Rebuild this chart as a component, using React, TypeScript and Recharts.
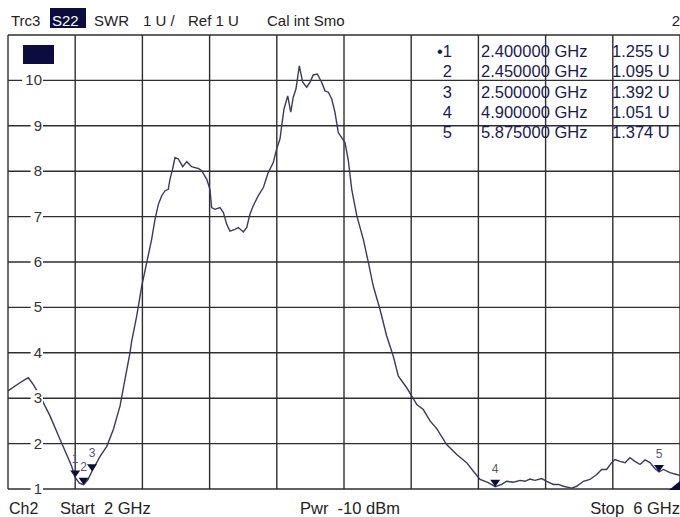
import React from 'react';
import { LineChart, Line, XAxis, YAxis, CartesianGrid, ReferenceDot } from 'recharts';

const freqGHz = [
  2.0, 2.071, 2.101, 2.121, 2.151, 2.19, 2.25, 2.31, 2.349, 2.379, 2.4, 2.425, 2.45, 2.475, 2.5,
  2.548, 2.588, 2.627, 2.667, 2.696, 2.726, 2.736, 2.766, 2.796, 2.826, 2.855, 2.875, 2.895, 2.915,
  2.935, 2.954, 2.964, 2.98, 2.994, 3.014, 3.04, 3.064, 3.093, 3.113, 3.133, 3.153, 3.183, 3.202,
  3.212, 3.232, 3.262, 3.282, 3.302, 3.321, 3.351, 3.371, 3.401, 3.421, 3.44, 3.46, 3.49, 3.52,
  3.549, 3.579, 3.599, 3.619, 3.629, 3.643, 3.665, 3.683, 3.698, 3.714, 3.734, 3.754, 3.778, 3.798,
  3.817, 3.841, 3.867, 3.887, 3.907, 3.927, 3.946, 3.966, 3.986, 4.006, 4.026, 4.046, 4.076, 4.115,
  4.145, 4.174, 4.214, 4.254, 4.293, 4.323, 4.373, 4.403, 4.433, 4.472, 4.512, 4.552, 4.611, 4.671,
  4.73, 4.77, 4.81, 4.859, 4.9, 4.939, 4.968, 5.008, 5.048, 5.077, 5.107, 5.137, 5.177, 5.207,
  5.246, 5.276, 5.306, 5.355, 5.385, 5.425, 5.464, 5.504, 5.534, 5.563, 5.593, 5.613, 5.643, 5.673,
  5.702, 5.732, 5.762, 5.792, 5.821, 5.85, 5.875, 5.901, 5.94, 5.98, 6.0,
];

const swrU = [
  3.16, 3.34, 3.41, 3.45, 3.3, 3.05, 2.61, 2.09, 1.76, 1.5, 1.255, 1.13, 1.095, 1.2, 1.392,
  1.72, 1.94, 2.31, 2.83, 3.41, 4.0, 4.25, 4.81, 5.47, 5.99, 6.5, 6.94, 7.27, 7.46,
  7.57, 7.6, 7.82, 8.05, 8.3, 8.27, 8.1, 8.21, 8.1, 8.08, 8.06, 8.01, 7.82, 7.6,
  7.2, 7.16, 7.2, 7.09, 6.83, 6.68, 6.72, 6.76, 6.66, 6.76, 7.05, 7.24, 7.46, 7.64,
  7.97, 8.19, 8.49, 8.71, 9.0, 9.37, 9.66, 9.3, 9.63, 9.81, 10.32, 9.96, 9.85, 9.96,
  10.12, 10.14, 9.96, 9.77, 9.74, 9.59, 9.3, 8.85, 8.74, 8.63, 8.23, 7.6, 7.02, 6.5,
  5.99, 5.47, 4.96, 4.37, 3.93, 3.49, 3.23, 3.05, 2.86, 2.75, 2.5, 2.33, 1.98, 1.76,
  1.58, 1.39, 1.21, 1.14, 1.051, 1.1, 1.17, 1.15, 1.19, 1.17, 1.22, 1.19, 1.23, 1.17,
  1.1, 1.1, 1.06, 1.02, 1.06, 1.17, 1.21, 1.32, 1.43, 1.43, 1.58, 1.65, 1.61, 1.58,
  1.69, 1.61, 1.54, 1.64, 1.58, 1.45, 1.374, 1.43, 1.36, 1.32, 1.3,
];

const markerNames = ['1', '2', '3', '4', '5'];
const markerFreqGHz = [2.4, 2.45, 2.5, 4.9, 5.875];
const markerSwrU = [1.255, 1.095, 1.392, 1.051, 1.374];
const markerTableNames = ['\u20221', '2', '3', '4', '5'];
const markerFreqLabels = ['2.400000 GHz', '2.450000 GHz', '2.500000 GHz', '4.900000 GHz', '5.875000 GHz'];
const markerValueLabels = ['1.255 U', '1.095 U', '1.392 U', '1.051 U', '1.374 U'];

const xTicks = [2, 2.4, 2.8, 3.2, 3.6, 4, 4.4, 4.8, 5.2, 5.6, 6];
const yTicks = [1, 2, 3, 4, 5, 6, 7, 8, 9, 10, 11];
const yTickLabels = ['1', '2', '3', '4', '5', '6', '7', '8', '9', '10'];

const headerSegments = [
  { text: 'Trc3', x: 11 },
  { text: 'SWR', x: 94 },
  { text: '1 U /', x: 143 },
  { text: 'Ref 1 U', x: 188 },
  { text: 'Cal int Smo', x: 267 },
];

const data = freqGHz.map((f, i) => ({ f, swr: swrU[i] }));

const FONT = '"Liberation Sans", Arial, sans-serif';
const NAVY = '#0c0c3e';

const X_DOMAIN: [number, number] = [2, 6];
const Y_DOMAIN: [number, number] = [1, 11];

const YTick = (props: any) => {
  const { x, y, payload } = props;
  const idx = yTicks.indexOf(payload.value);
  const label = yTickLabels[idx];
  if (!label) return <g />;
  const w = label.length * 8.4;
  const right = x + 34;
  return (
    <g>
      <rect x={right - w - 3} y={y - 8} width={w + 4} height={16} fill="#ffffff" />
      <text x={right} y={y + 5} textAnchor="end" fontSize={15} fill="#333" fontFamily={FONT}>
        {label}
      </text>
    </g>
  );
};

const EmptyTick = () => <g />;

const makeMarker = (name: string) => (props: any) => {
  const { cx, cy } = props;
  return (
    <g>
      <polygon points={`${cx - 5},${cy - 7} ${cx + 5},${cy - 7} ${cx},${cy}`} fill={NAVY} />
      <text x={cx} y={cy - 14} textAnchor="middle" fontSize={12} fill="#55557a" fontFamily={FONT}>
        {name}
      </text>
    </g>
  );
};

const CornerShape = (props: any) => {
  const { cx, cy } = props;
  return <polygon points={`${cx - 11},${cy + 1} ${cx},${cy + 1} ${cx},${cy - 8}`} fill={NAVY} />;
};

const verticalGen = (args: any) => {
  const { xAxis, offset } = args;
  if (xAxis && typeof xAxis.scale === 'function') {
    return xTicks.map((t) => xAxis.scale(t));
  }
  return xTicks.map((t) => offset.left + ((t - X_DOMAIN[0]) / (X_DOMAIN[1] - X_DOMAIN[0])) * offset.width);
};

const horizontalGen = (args: any) => {
  const { yAxis, offset } = args;
  if (yAxis && typeof yAxis.scale === 'function') {
    return yTicks.map((t) => yAxis.scale(t));
  }
  return yTicks.map((t) => offset.top + ((Y_DOMAIN[1] - t) / (Y_DOMAIN[1] - Y_DOMAIN[0])) * offset.height);
};

export default function App() {
  return (
    <div style={{ position: 'absolute', left: 0, top: 0, width: 680, height: 517, background: '#fff' }}>
      <LineChart width={680} height={517} data={data} margin={{ top: 35, right: 0, bottom: 27, left: 0 }}>
        <CartesianGrid
          stroke="#2e2e2e"
          strokeWidth={1.4}
          verticalCoordinatesGenerator={verticalGen}
          horizontalCoordinatesGenerator={horizontalGen}
        />
        <XAxis
          dataKey="f"
          type="number"
          domain={X_DOMAIN}
          ticks={xTicks}
          height={1}
          tick={<EmptyTick />}
          axisLine={false}
          tickLine={false}
          interval={0}
        />
        <YAxis
          type="number"
          domain={Y_DOMAIN}
          ticks={yTicks}
          width={8}
          tickSize={0}
          tickMargin={0}
          axisLine={false}
          tickLine={false}
          tick={<YTick />}
          interval={0}
        />
        <Line
          type="linear"
          dataKey="swr"
          stroke="#3a3a5a"
          strokeWidth={1.4}
          dot={false}
          isAnimationActive={false}
        />
        {markerNames.map((n, i) => (
          <ReferenceDot
            key={n}
            x={markerFreqGHz[i]}
            y={markerSwrU[i]}
            r={0}
            shape={makeMarker(n)}
            ifOverflow="visible"
          />
        ))}
        <ReferenceDot x={6} y={1} r={0} shape={CornerShape} ifOverflow="visible" />
      </LineChart>
      <svg
        width={680}
        height={517}
        style={{ position: 'absolute', left: 0, top: 0, pointerEvents: 'none' }}
        fontFamily={FONT}
      >
        {headerSegments.map((s) => (
          <text key={s.text} x={s.x} y={26} fontSize={15} fill="#222" style={{ whiteSpace: 'pre' }}>
            {s.text}
          </text>
        ))}
        <rect x={50} y={8} width={36} height={20} fill={NAVY} />
        <text x={52} y={26} fontSize={15} fill="#fff">S22</text>
        <text x={680} y={26} fontSize={15} fill="#222" textAnchor="end">2</text>
        <rect x={23} y={45} width={31} height={19} fill={NAVY} />
        {markerTableNames.map((n, i) => (
          <g key={n} fill="#1a1a55" fontSize={16.5}>
            <text x={452} y={57 + i * 20.3} textAnchor="end">{n}</text>
            <text x={481} y={57 + i * 20.3}>{markerFreqLabels[i]}</text>
            <text x={612} y={57 + i * 20.3}>{markerValueLabels[i]}</text>
          </g>
        ))}
        <text x={9} y={514} fontSize={16} fill="#222">Ch2</text>
        <text x={60} y={514} fontSize={16.5} fill="#222" style={{ whiteSpace: 'pre' }}>Start  2 GHz</text>
        <text x={300} y={514} fontSize={16.5} fill="#222" style={{ whiteSpace: 'pre' }}>Pwr  -10 dBm</text>
        <text x={680} y={514} fontSize={16.5} fill="#222" textAnchor="end" style={{ whiteSpace: 'pre' }}>Stop  6 GHz</text>
      </svg>
    </div>
  );
}
